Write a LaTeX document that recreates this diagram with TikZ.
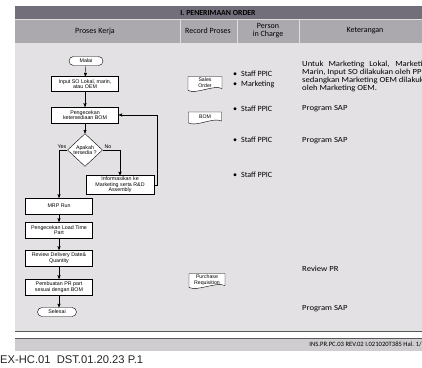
\documentclass[tikz,border=0pt]{standalone}
\usepackage{fontspec}
\setmainfont{Liberation Sans}
\newfontfamily\calib{Carlito}
\newfontfamily\calibw[FakeStretch=1.11]{Carlito}
\usetikzlibrary{arrows,positioning,shapes.geometric}
\definecolor{titlegray}{HTML}{726F7B}
\definecolor{headgray}{HTML}{ABA9AE}
\definecolor{bodygray}{HTML}{E3E1E3}
\definecolor{footgray}{HTML}{CFCDCF}
\tikzset{
  flow/.style={draw, fill=white, thin, align=center, inner sep=1, font=\fontsize{5.3}{5.6}\selectfont},
  proc/.style={flow, minimum width=67, minimum height=16},
  term/.style={flow, rounded corners=4.5, minimum width=34, minimum height=9},
  dec/.style={flow, diamond, minimum width=35, minimum height=21, inner sep=0},
  docbox/.style={align=center, inner sep=0, font=\fontsize{5.2}{5.8}\selectfont},
  lbl/.style={font=\fontsize{5.3}{5.6}\selectfont, inner sep=1},
  head/.style={font=\calib\fontsize{8}{8}\selectfont, align=center},
  person/.style={font=\calib\fontsize{8}{8}\selectfont, anchor=west, inner sep=0},
  note/.style={font=\calibw\fontsize{7.8}{8}\selectfont, anchor=west, inner sep=0},
  flowline/.style={->, >=stealth', thin},
}
\begin{document}
\begin{tikzpicture}[x=1pt,y=-1pt]
\useasboundingbox (0,0) rectangle (422,367);
\fill[white] (0,0) rectangle (422,367);
\clip (0,0) rectangle (422,367);
% table frame
\fill[titlegray] (15,6) rectangle (430,19);
\fill[headgray] (15,19) rectangle (430,43);
\fill[bodygray] (15,43) rectangle (430,331);
\draw[gray!70!black] (15,331) -- (430,331);
\draw[white!75!gray] (15,19) -- (430,19);
\foreach \x in {180,237,299} \draw[white!75!gray] (\x,19) -- (\x,43);
\node[head, font=\calib\bfseries\fontsize{7.8}{8}\selectfont] (title) at (218,12.5) {I. PENERIMAAN ORDER};
\node[head] (hkerja) at (95,31) {Proses Kerja};
\node[head] (hrecord) at (208,31) {Record Proses};
\node[head] (hpic) at (268,31) {Person\\in Charge};
\node[head] (hket) at (365,31) {Keterangan};
% flowchart
\node[term] (malai) at (86,61) {Malai};
\node[proc, minimum height=15] (input) at (85,84) {Input SO Lokal, marin,\\atau OEM};
\node[proc] (cek) at (85,115) {Pengecekan\\ketersediaan BOM};
\node[dec] (tanya) at (85,150) {Apakah\\tersedia ?};
\node[proc, minimum width=68, minimum height=19] (info) at (120,185) {Informasikan ke\\Marketing serta R\&D\\Assembly};
\node[proc] (mrp) at (59,206) {MRP Run};
\node[proc] (lead) at (59,230) {Pengecekan Load Time\\Part};
\node[proc] (review) at (59,258) {Review Delivery Date\&\\Quantity};
\node[proc] (prpart) at (59,287) {Pembuatan PR part\\sesuai dengan BOM};
\node[term, minimum width=39] (selesai) at (57,312) {Selesai};
\draw[flowline] (malai) -- (input);
\draw[flowline] (input) -- (cek);
\draw[flowline] (cek) -- (tanya);
\draw[flowline] (tanya.west) -| node[lbl, pos=.5, above, xshift=3]{Yes} (mrp);
\draw[flowline] (tanya.east) -| node[lbl, pos=.15, above]{No} (info);
\draw[flowline] (info.east) -- ++(3,0) |- (cek.east);
\foreach \a/\b in {mrp/lead, lead/review, review/prpart}
  \draw[flowline] (\a) -- (\b);
\draw[flowline] (prpart.south) -- (prpart.south |- selesai.north);
% record documents
\foreach \n/\cx/\cy/\w/\h/\t in {so/205/84/34/15/{Sales\\Order}, bom/205/118/33/12/BOM, preq/207/281/36/15/{Purchase\\Requisition}} {
  \filldraw[fill=white, thin] (\cx-\w/2,\cy+\h/2-1) -- (\cx-\w/2,\cy-\h/2) -- (\cx+\w/2,\cy-\h/2) -- (\cx+\w/2,\cy+\h/2-3)
    .. controls +(-\w/4,-4) and +(\w/4,4) .. (\cx-\w/2,\cy+\h/2-1) -- cycle;
  \node[docbox] (\n) at (\cx,\cy-1) {\t};
}
% person in charge
\foreach \n/\y/\t in {p1/74/Staff PPIC, p2/84/Marketing, p3/109/Staff PPIC, p4/140/Staff PPIC, p5/175/Staff PPIC}
  \node[person] (\n) at (233,\y) {\textbullet\hspace{4pt}\t};
% keterangan
\node[note] (k1) at (302,64) {\makebox[129pt][s]{Untuk Marketing Lokal, Marketing}};
\foreach \n/\y/\t in {k2/72/{Marin, Input SO dilakukan oleh PPIC}, k3/80/{sedangkan Marketing OEM dilakukan}, k4/88/{oleh Marketing OEM.}, k5/109/{Program SAP}, k6/141/{Program SAP}, k7/269/{Review PR}, k8/309/{Program SAP}}
  \node[note] (\n) at (302,\y) {\t};
% footer
\fill[footgray] (15,338) rectangle (430,351);
\draw[gray!70!black] (15,338) -- (430,338);
\node[font=\calib\fontsize{6.6}{6.6}\selectfont, anchor=east, inner sep=0] (insno) at (422,344.5) {INS.PR.PC.03 REV.02 I.021020T385 Hal. 1/};
\node[font=\fontsize{11.2}{11.2}\selectfont, anchor=west, inner sep=0, text=black!85] (docid) at (0,360) {EX-HC.01\ \ DST.01.20.23 P.1};
\end{tikzpicture}
\end{document}
